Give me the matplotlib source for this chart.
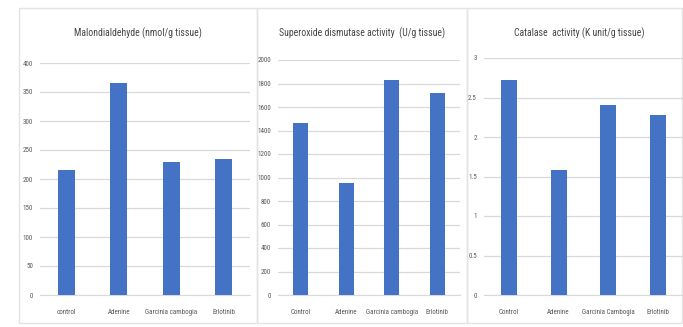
import matplotlib
matplotlib.use("Agg")
import matplotlib.pyplot as plt
from matplotlib import font_manager
from matplotlib.patches import Rectangle

# values per panel
mda_groups = ["control", "Adenine", "Garcinia cambogia", "Erlotinib"]
mda_values = [215, 366, 229, 234]
mda_ticks = [0, 50, 100, 150, 200, 250, 300, 350, 400]

sod_groups = ["Control", "Adenine", "Garcinia cambogia", "Erlotinib"]
sod_values = [1461, 953, 1830, 1719]
sod_ticks = [0, 200, 400, 600, 800, 1000, 1200, 1400, 1600, 1800, 2000]

cat_groups = ["Control", "Adenine", "Garcinia Cambogia", "Erlotinib"]
cat_values = [2.72, 1.58, 2.40, 2.28]
cat_ticks = [0, 0.5, 1, 1.5, 2, 2.5, 3]

BAR = "#4472C4"
GRID = "#d9d9d9"
TEXT = "#595959"

# narrowest font we can find
available = {f.name for f in font_manager.fontManager.ttflist}
for fam in ["Liberation Sans Narrow", "Roboto Condensed", "DejaVu Sans"]:
    if fam in available:
        plt.rcParams["font.family"] = fam
        break
plt.rcParams["font.stretch"] = "condensed"

W, H = 683, 327
fig = plt.figure(figsize=(W / 100, H / 100), dpi=100)


def box(x0, y0, x1, y1):
    # pixel box (top-left origin) -> figure fraction rect
    return [x0 / W, 1 - y1 / H, (x1 - x0) / W, (y1 - y0) / H]


# panel frames, kept underneath the axes
for x0, x1 in [(19, 257), (257, 467), (467, 682)]:
    fig.patches.append(Rectangle((x0 / W, 1 - 323 / H), (x1 - x0) / W, (323 - 8) / H,
                                 transform=fig.transFigure, fill=False,
                                 edgecolor="#e3e3e3", linewidth=1.0, zorder=-1))

panels = [
    (mda_groups, mda_values, mda_ticks, "Malondialdehyde (nmol/g tissue)",
     (40, 63, 250, 295), 138),
    (sod_groups, sod_values, sod_ticks, "Superoxide dismutase activity  (U/g tissue)",
     (278, 60, 460, 295), 362),
    (cat_groups, cat_values, cat_ticks, "Catalase  activity (K unit/g tissue)",
     (484, 58, 683, 295), 579),
]

for groups, values, ticks, title, (x0, y0, x1, y1), tx in panels:
    ax = fig.add_axes(box(x0, y0, x1, y1))
    ax.patch.set_alpha(0)
    ax.bar(range(len(values)), values, width=0.32, color=BAR, zorder=3)
    ax.set_xlim(-0.5, len(values) - 0.5)
    ax.set_ylim(ticks[0], ticks[-1])
    ax.set_yticks(ticks)
    ax.set_yticklabels([f"{t:g}" for t in ticks])
    ax.set_xticks(range(len(values)))
    ax.set_xticklabels(groups)
    ax.grid(axis="y", color=GRID, linewidth=0.9, zorder=0)
    ax.set_axisbelow(True)
    for s in ["top", "left", "right"]:
        ax.spines[s].set_visible(False)
    ax.spines["bottom"].set_color(GRID)
    ax.tick_params(length=0, labelsize=5, labelcolor=TEXT)
    ax.tick_params(axis="x", pad=10)
    ax.tick_params(axis="y", pad=5)

    fig.text(tx / W, 1 - 33 / H, title, ha="center", va="center",
             fontsize=7, color="#454545")

fig.savefig("out.png", dpi=100, facecolor="white")
